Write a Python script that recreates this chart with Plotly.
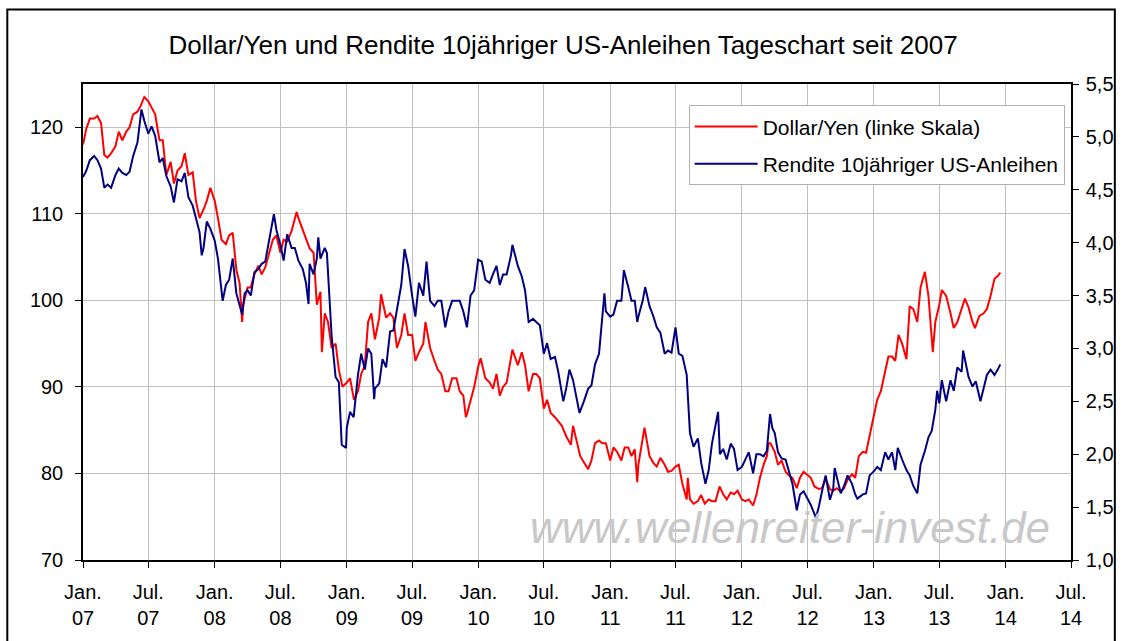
import plotly.graph_objects as go

# ---------------- data ----------------
usdjpy_dates = [
 "2007-01-01","2007-01-10","2007-01-20","2007-02-01","2007-02-10","2007-02-20","2007-03-01","2007-03-10","2007-03-20",
 "2007-04-01","2007-04-10","2007-04-20","2007-05-01","2007-05-10","2007-05-20","2007-06-01","2007-06-10","2007-06-20",
 "2007-07-01","2007-07-10","2007-07-20","2007-08-01","2007-08-10","2007-08-20","2007-09-01","2007-09-10","2007-09-20",
 "2007-10-01","2007-10-10","2007-10-20","2007-11-01","2007-11-10","2007-11-20","2007-12-01","2007-12-10","2007-12-20",
 "2008-01-01","2008-01-10","2008-01-20","2008-02-01","2008-02-10","2008-02-20","2008-03-01","2008-03-10","2008-03-17","2008-03-20",
 "2008-04-01","2008-04-10","2008-04-20","2008-05-01","2008-05-10","2008-05-20","2008-06-01","2008-06-10","2008-06-20",
 "2008-07-01","2008-07-10","2008-07-20","2008-08-01","2008-08-10","2008-08-15","2008-08-20","2008-09-01","2008-09-10","2008-09-20",
 "2008-10-01","2008-10-10","2008-10-20","2008-10-24","2008-11-01","2008-11-10","2008-11-20","2008-12-01","2008-12-10","2008-12-20",
 "2009-01-01","2009-01-10","2009-01-21","2009-02-01","2009-02-10","2009-02-20","2009-03-01","2009-03-10","2009-03-20",
 "2009-04-01","2009-04-06","2009-04-10","2009-04-20","2009-05-01","2009-05-10","2009-05-20","2009-06-01","2009-06-10","2009-06-20",
 "2009-07-01","2009-07-10","2009-07-20","2009-08-01","2009-08-07","2009-08-20","2009-09-01","2009-09-10","2009-09-20",
 "2009-10-01","2009-10-10","2009-10-20","2009-11-01","2009-11-10","2009-11-20","2009-11-27","2009-12-01","2009-12-10","2009-12-20",
 "2010-01-01","2010-01-07","2010-01-20","2010-02-01","2010-02-10","2010-02-20","2010-03-01","2010-03-10","2010-03-20",
 "2010-04-01","2010-04-05","2010-04-20","2010-05-01","2010-05-10","2010-05-20","2010-06-01","2010-06-10","2010-06-20",
 "2010-07-01","2010-07-10","2010-07-20","2010-08-01","2010-08-10","2010-08-20","2010-09-01","2010-09-14","2010-09-20",
 "2010-10-01","2010-10-10","2010-10-20","2010-11-01","2010-11-10","2010-11-20","2010-12-01","2010-12-10","2010-12-20",
 "2011-01-01","2011-01-10","2011-01-20","2011-02-01","2011-02-10","2011-02-20","2011-03-01","2011-03-10","2011-03-17","2011-03-20",
 "2011-04-01","2011-04-06","2011-04-20","2011-05-01","2011-05-10","2011-05-20","2011-06-01","2011-06-10","2011-06-20",
 "2011-07-01","2011-07-10","2011-07-20","2011-08-01","2011-08-04","2011-08-10","2011-08-20","2011-09-01","2011-09-10","2011-09-20",
 "2011-10-01","2011-10-10","2011-10-20","2011-10-31","2011-11-10","2011-11-20","2011-12-01","2011-12-10","2011-12-20",
 "2012-01-01","2012-01-10","2012-01-20","2012-02-01","2012-02-10","2012-02-20","2012-03-01","2012-03-10","2012-03-15","2012-03-20",
 "2012-04-01","2012-04-10","2012-04-20","2012-05-01","2012-05-10","2012-05-20","2012-06-01","2012-06-10","2012-06-20",
 "2012-07-01","2012-07-10","2012-07-20","2012-08-01","2012-08-10","2012-08-20","2012-09-01","2012-09-10","2012-09-20",
 "2012-10-01","2012-10-10","2012-10-20","2012-11-01","2012-11-10","2012-11-20","2012-12-01","2012-12-10","2012-12-20",
 "2013-01-01","2013-01-10","2013-01-20","2013-02-01","2013-02-10","2013-02-20","2013-03-01","2013-03-10","2013-03-20",
 "2013-04-01","2013-04-10","2013-04-20","2013-05-01","2013-05-10","2013-05-22","2013-06-01","2013-06-13","2013-06-20",
 "2013-07-01","2013-07-08","2013-07-20","2013-08-01","2013-08-10","2013-08-20","2013-09-01","2013-09-10","2013-09-20",
 "2013-10-01","2013-10-08","2013-10-20","2013-11-01","2013-11-10","2013-11-20","2013-12-01","2013-12-10","2013-12-17",
]
usdjpy = [
 118.0,119.8,121.0,121.0,121.3,120.5,116.8,116.5,117.0,
 117.8,119.5,118.5,119.5,120.0,121.5,121.8,122.5,123.5,
 123.0,122.3,121.5,118.5,118.5,114.5,116.0,113.5,115.0,
 115.5,117.0,114.5,114.8,111.5,109.5,110.5,111.5,113.0,
 111.5,109.5,107.0,106.5,107.5,107.8,103.5,102.0,97.5,99.5,
 101.5,101.5,103.0,104.0,103.0,103.8,105.5,107.0,107.5,
 105.5,107.0,106.8,108.0,109.5,110.2,109.5,108.2,107.0,106.0,
 105.5,99.5,101.0,94.0,98.5,97.5,94.5,95.0,92.0,90.0,
 90.5,91.0,88.5,89.5,91.5,92.5,97.5,98.5,95.5,
 98.0,100.7,100.0,98.0,98.5,98.0,94.5,96.0,98.5,96.0,
 96.0,93.0,94.0,95.0,97.5,94.5,93.0,92.0,91.5,
 89.5,89.5,91.0,91.0,89.5,89.0,86.5,87.0,88.5,90.0,
 92.5,93.3,91.0,90.5,89.8,91.5,89.0,90.0,90.5,
 93.5,94.3,92.5,94.0,92.5,89.5,91.5,91.5,91.0,
 87.5,88.5,87.0,86.5,86.0,85.5,84.3,83.3,85.5,
 83.5,82.0,81.3,80.5,81.5,83.5,83.8,83.5,83.5,
 81.5,83.0,82.5,81.5,83.0,83.0,82.0,82.8,79.0,81.0,
 84.0,85.3,82.0,81.2,80.8,81.8,81.0,80.2,80.3,
 80.8,81.0,78.8,77.0,79.5,77.0,76.5,76.8,77.5,76.5,
 77.0,76.8,76.8,78.5,77.6,77.0,77.8,77.6,78.0,
 77.0,76.8,77.0,76.3,77.5,79.5,81.0,82.0,83.5,83.5,
 82.5,81.0,81.5,80.2,79.8,79.5,78.3,79.5,80.2,
 79.8,79.5,78.5,78.2,78.3,79.4,78.2,78.0,78.3,
 77.9,78.3,79.3,79.9,79.5,82.0,82.5,82.4,84.3,
 86.5,88.5,89.5,92.0,93.5,93.5,93.0,96.0,95.0,
 93.2,99.3,99.0,97.5,101.5,103.3,100.5,94.0,97.5,
 99.5,101.2,100.5,98.5,96.8,97.5,99.0,100.2,99.2,
 97.5,96.8,98.2,98.5,99.0,100.5,102.5,102.8,103.2,
]

yield_dates = [
 "2007-01-01","2007-01-10","2007-01-20","2007-02-01","2007-02-10","2007-02-20","2007-03-01","2007-03-10","2007-03-20",
 "2007-04-01","2007-04-10","2007-04-20","2007-05-01","2007-05-10","2007-05-20","2007-06-01","2007-06-12","2007-06-20",
 "2007-07-01","2007-07-10","2007-07-20","2007-08-01","2007-08-10","2007-08-20","2007-09-01","2007-09-10","2007-09-20",
 "2007-10-01","2007-10-10","2007-10-20","2007-11-01","2007-11-10","2007-11-20","2007-11-26","2007-12-01","2007-12-10","2007-12-20",
 "2008-01-01","2008-01-10","2008-01-23","2008-02-01","2008-02-10","2008-02-20","2008-03-01","2008-03-17","2008-03-24",
 "2008-04-01","2008-04-10","2008-04-20","2008-05-01","2008-05-10","2008-05-20","2008-06-01","2008-06-13","2008-06-20",
 "2008-07-01","2008-07-10","2008-07-20","2008-08-01","2008-08-10","2008-08-20","2008-09-01","2008-09-10","2008-09-17","2008-09-20",
 "2008-10-01","2008-10-10","2008-10-14","2008-10-20","2008-11-01","2008-11-07","2008-11-20","2008-12-01","2008-12-10","2008-12-18","2008-12-30",
 "2009-01-01","2009-01-10","2009-01-20","2009-02-01","2009-02-10","2009-02-20","2009-03-01","2009-03-10","2009-03-18","2009-03-20",
 "2009-04-01","2009-04-10","2009-04-20","2009-05-01","2009-05-10","2009-05-20","2009-06-01","2009-06-10","2009-06-20",
 "2009-07-01","2009-07-10","2009-07-20","2009-08-01","2009-08-10","2009-08-20","2009-09-01","2009-09-10","2009-09-20",
 "2009-10-01","2009-10-10","2009-10-20","2009-11-01","2009-11-10","2009-11-20","2009-11-30","2009-12-10","2009-12-20","2009-12-31",
 "2010-01-10","2010-01-20","2010-02-01","2010-02-10","2010-02-20","2010-03-01","2010-03-10","2010-03-20",
 "2010-04-01","2010-04-05","2010-04-20","2010-05-01","2010-05-10","2010-05-20","2010-06-01","2010-06-10","2010-06-20",
 "2010-07-01","2010-07-10","2010-07-20","2010-08-01","2010-08-10","2010-08-24","2010-09-01","2010-09-10","2010-09-20",
 "2010-10-01","2010-10-08","2010-10-20","2010-11-01","2010-11-10","2010-11-20","2010-12-01","2010-12-10","2010-12-16","2010-12-20",
 "2011-01-01","2011-01-10","2011-01-20","2011-02-01","2011-02-08","2011-02-20","2011-03-01","2011-03-10","2011-03-17","2011-03-20",
 "2011-04-01","2011-04-08","2011-04-20","2011-05-01","2011-05-10","2011-05-20","2011-06-01","2011-06-10","2011-06-20",
 "2011-07-01","2011-07-10","2011-07-20","2011-08-01","2011-08-10","2011-08-20","2011-09-01","2011-09-10","2011-09-22",
 "2011-10-01","2011-10-10","2011-10-27","2011-11-01","2011-11-10","2011-11-20","2011-12-01","2011-12-10","2011-12-20",
 "2012-01-01","2012-01-10","2012-01-20","2012-02-01","2012-02-10","2012-02-20","2012-03-01","2012-03-10","2012-03-19","2012-03-25",
 "2012-04-01","2012-04-10","2012-04-20","2012-05-01","2012-05-10","2012-05-20","2012-06-01","2012-06-10","2012-06-20",
 "2012-07-01","2012-07-10","2012-07-24","2012-08-01","2012-08-10","2012-08-20","2012-09-01","2012-09-10","2012-09-14","2012-09-20",
 "2012-10-01","2012-10-10","2012-10-20","2012-11-01","2012-11-10","2012-11-16","2012-12-01","2012-12-10","2012-12-20",
 "2013-01-01","2013-01-10","2013-01-20","2013-02-01","2013-02-10","2013-02-20","2013-03-01","2013-03-08","2013-03-20",
 "2013-04-01","2013-04-10","2013-04-20","2013-05-01","2013-05-10","2013-05-22","2013-06-01","2013-06-10","2013-06-20","2013-06-25",
 "2013-07-01","2013-07-08","2013-07-20","2013-08-01","2013-08-10","2013-08-20","2013-09-01","2013-09-05","2013-09-20",
 "2013-10-01","2013-10-10","2013-10-23","2013-11-01","2013-11-10","2013-11-20","2013-12-01","2013-12-10","2013-12-17",
]
us10y = [
 4.62,4.68,4.78,4.82,4.78,4.70,4.52,4.55,4.52,
 4.64,4.70,4.66,4.64,4.67,4.82,4.95,5.26,5.15,
 5.03,5.10,5.01,4.76,4.80,4.63,4.53,4.38,4.60,
 4.58,4.66,4.43,4.35,4.23,4.10,3.88,3.95,4.20,4.13,
 4.02,3.85,3.45,3.60,3.65,3.85,3.52,3.32,3.52,
 3.55,3.50,3.72,3.75,3.80,3.82,4.05,4.27,4.12,
 3.98,3.83,4.08,3.95,3.95,3.83,3.75,3.62,3.42,3.80,
 3.70,3.85,4.05,3.85,3.95,3.90,3.12,2.73,2.68,2.09,2.06,
 2.25,2.40,2.35,2.75,2.95,2.80,3.00,2.95,2.52,2.62,
 2.67,2.90,2.82,3.16,3.17,3.35,3.60,3.94,3.78,
 3.50,3.30,3.62,3.50,3.82,3.45,3.40,3.45,3.45,
 3.20,3.35,3.45,3.45,3.45,3.35,3.20,3.50,3.55,3.84,
 3.82,3.65,3.62,3.70,3.78,3.60,3.70,3.70,
 3.88,3.98,3.78,3.68,3.55,3.25,3.28,3.25,3.22,
 2.95,3.05,2.90,2.92,2.78,2.50,2.62,2.80,2.70,
 2.52,2.39,2.50,2.62,2.65,2.85,2.95,3.30,3.52,3.35,
 3.30,3.32,3.45,3.45,3.74,3.58,3.45,3.45,3.25,3.30,
 3.45,3.58,3.40,3.30,3.20,3.15,2.95,2.98,2.96,
 3.20,2.95,2.93,2.75,2.20,2.07,2.15,1.92,1.72,
 1.85,2.10,2.40,2.00,2.05,1.95,2.10,2.05,1.85,
 1.88,1.95,2.02,1.82,2.00,2.00,1.98,2.03,2.38,2.25,
 2.20,2.02,1.96,1.95,1.85,1.72,1.47,1.62,1.65,
 1.58,1.52,1.40,1.50,1.65,1.80,1.57,1.67,1.87,1.78,
 1.63,1.70,1.80,1.72,1.62,1.58,1.62,1.63,1.80,
 1.84,1.88,1.85,2.02,1.95,2.02,1.85,2.06,1.95,
 1.85,1.80,1.70,1.63,1.90,2.03,2.16,2.22,2.42,2.60,
 2.48,2.70,2.50,2.70,2.60,2.82,2.78,2.98,2.73,
 2.64,2.69,2.50,2.62,2.75,2.80,2.75,2.80,2.85,
]

tick_dates = ["2007-01-01","2007-07-01","2008-01-01","2008-07-01","2009-01-01","2009-07-01","2010-01-01","2010-07-01",
              "2011-01-01","2011-07-01","2012-01-01","2012-07-01","2013-01-01","2013-07-01","2014-01-01","2014-07-01"]
tick_labels = ["Jan.<br>07","Jul.<br>07","Jan.<br>08","Jul.<br>08","Jan.<br>09","Jul.<br>09","Jan.<br>10","Jul.<br>10",
               "Jan.<br>11","Jul.<br>11","Jan.<br>12","Jul.<br>12","Jan.<br>13","Jul.<br>13","Jan.<br>14","Jul.<br>14"]
right_vals = [1.0,1.5,2.0,2.5,3.0,3.5,4.0,4.5,5.0,5.5]
right_labels = ["1,0","1,5","2,0","2,5","3,0","3,5","4,0","4,5","5,0","5,5"]

title_text = "Dollar/Yen und Rendite 10jähriger US-Anleihen Tageschart seit 2007"
name_fx = "Dollar/Yen (linke Skala)"
name_yield = "Rendite 10jähriger US-Anleihen"
watermark = "www.wellenreiter-invest.de"

FONT = "Liberation Sans, Arial, sans-serif"

fig = go.Figure()
fig.add_trace(go.Scatter(x=yield_dates, y=us10y, name=name_yield, yaxis="y2", mode="lines",
                         line=dict(color="#000080", width=2), legendgroup="b", legendrank=2))
fig.add_trace(go.Scatter(x=usdjpy_dates, y=usdjpy, name=name_fx, mode="lines",
                         line=dict(color="#FF0000", width=2), legendgroup="a", legendrank=1))

fig.update_layout(
    width=1126, height=641,
    margin=dict(l=83, r=51, t=84, b=78),
    paper_bgcolor="white", plot_bgcolor="white",
    font=dict(family=FONT, color="black", size=20),
    title=dict(text=title_text, x=0.5, xanchor="center", y=0.93, yanchor="middle",
               font=dict(size=26, family=FONT, color="black")),
    showlegend=True,
    legend=dict(x=0.613, y=0.955, xanchor="left", yanchor="top",
                bgcolor="white", bordercolor="#B0B0B0", borderwidth=1,
                font=dict(size=21, family=FONT), tracegroupgap=7,
                traceorder="grouped", itemwidth=63),
    xaxis=dict(type="date", range=["2007-01-01", "2014-07-01"],
               tickmode="array", tickvals=tick_dates, ticktext=tick_labels,
               showgrid=True, gridcolor="#C0C0C0", gridwidth=1,
               showline=True, linecolor="black", linewidth=1.5, mirror=True,
               ticks="outside", ticklen=6, tickcolor="black",
               tickfont=dict(size=20), ticklabelstandoff=7, zeroline=False),
    yaxis=dict(range=[70, 125], tickmode="array", tickvals=[70, 80, 90, 100, 110, 120],
               showgrid=True, gridcolor="#C0C0C0", gridwidth=1,
               showline=True, linecolor="black", linewidth=1.5, mirror=True,
               ticks="outside", ticklen=6, tickcolor="black",
               tickfont=dict(size=20), ticklabelstandoff=8, zeroline=False),
    yaxis2=dict(range=[1.0, 5.5], overlaying="y", side="right",
                tickmode="array", tickvals=right_vals, ticktext=right_labels,
                showgrid=False, showline=True, linecolor="black", linewidth=1.5,
                ticks="outside", ticklen=6, tickcolor="black",
                tickfont=dict(size=20), ticklabelstandoff=3, zeroline=False),
    annotations=[dict(text=watermark, xref="paper", yref="paper", x=0.716, y=0.068,
                      xanchor="center", yanchor="middle", showarrow=False,
                      font=dict(size=44, family=FONT, color="#C8C8C8", style="italic"))],
    shapes=[dict(type="rect", xref="paper", yref="paper",
                 x0=(7 - 83) / 992, x1=(1119 - 83) / 992,
                 y0=(563 - 660) / 479, y1=(563 - 9) / 479,
                 line=dict(color="black", width=2), fillcolor="rgba(0,0,0,0)", layer="above")],
)

fig.write_html("out.html", config={"displayModeBar": False},
               post_script="document.body.style.margin='0';document.body.style.padding='0';")
